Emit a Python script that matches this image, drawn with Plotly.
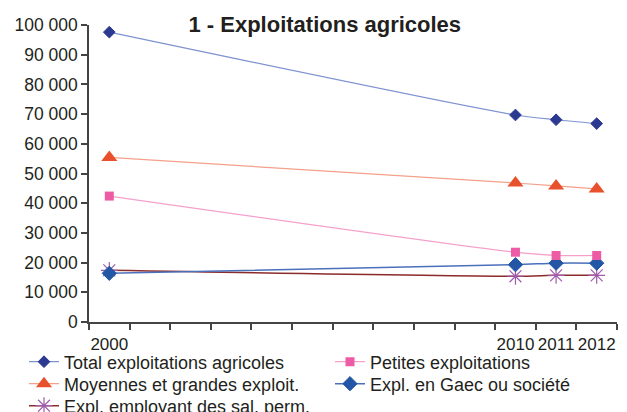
import plotly.graph_objects as go

years = [2000, 2010, 2011, 2012]
total = [97600, 69700, 68100, 66800]
moyennes = [55400, 46800, 45800, 44800]
petites = [42400, 23500, 22400, 22400]
gaec = [16400, 19300, 19800, 19800]
salaries = [17400, 15400, 15700, 15700]

names = ["Total exploitations agricoles", "Petites exploitations",
         "Moyennes et grandes exploit.", "Expl. en Gaec ou société",
         "Expl. employant des sal. perm."]

FONT = "Liberation Sans, Arial, sans-serif"
W, H = 627, 412
fig = go.Figure()

def add(y, name, lcolor, lwidth, symbol, msize, mcolor, legend, mline=None):
    marker = dict(symbol=symbol, size=msize, color=mcolor)
    if mline:
        marker["line"] = mline
    fig.add_trace(go.Scatter(
        x=years, y=y, name=name, mode="lines+markers",
        line=dict(color=lcolor, width=lwidth, shape="spline", smoothing=0.8),
        marker=marker, legend=legend))

add(salaries, names[4], "#8C2B2B", 1.5, "asterisk-open", 14, "#A15BAD", "legend5",
    mline=dict(color="#A15BAD", width=1.2))
add(gaec, names[3], "#4A70BC", 1.5, "diamond", 11, "#2456A6", "legend4",
    mline=dict(color="#2456A6", width=1))
add(petites, names[1], "#F5A0CB", 1.2, "square", 9, "#EE5BA5", "legend2")
add(moyennes, names[2], "#F4A08A", 1.2, "triangle-up", 14, "#E9502D", "legend3")
add(total, names[0], "#7F93D0", 1.2, "diamond", 9, "#2B3990", "legend",
    mline=dict(color="#2B3990", width=1))

def leg(xpx, ypx):
    return dict(xref="container", yref="container", x=xpx / W, y=1 - ypx / H,
                xanchor="left", yanchor="middle", font=dict(size=18, family=FONT),
                bgcolor="rgba(0,0,0,0)", itemwidth=30)

fig.update_layout(
    width=W, height=H,
    margin=dict(l=89, r=10, t=25, b=90, autoexpand=False),
    paper_bgcolor="white", plot_bgcolor="white",
    separators=", ",
    font=dict(family=FONT, color="#231F20"),
    title=dict(text="<b>1 - Exploitations agricoles</b>", x=0.518, xanchor="center",
               y=1 - 24 / H, yanchor="middle",
               font=dict(size=22, family=FONT, color="#231F20")),
    showlegend=True,
    legend=leg(24, 362),
    legend2=leg(330, 362),
    legend3=leg(24, 384),
    legend4=leg(330, 384),
    legend5=leg(24, 406),
)

fig.update_xaxes(
    range=[1999.5, 2012.5], tickvals=years, ticktext=[str(v) for v in years],
    ticks="", showline=True, linecolor="#444", linewidth=1.5, showgrid=False,
    zeroline=False, tickangle=0, ticklabelstandoff=6,
    tickfont=dict(size=17, family=FONT, color="#231F20"),
    minor=dict(tickmode="linear", tick0=1999.5, dtick=1, ticks="outside",
               ticklen=6, tickcolor="#444", tickwidth=1.5, showgrid=False),
)
fig.update_yaxes(
    range=[0, 100000], dtick=10000, tickformat=",d", ticks="outside", ticklen=6,
    tickcolor="#444", tickwidth=1.5, showline=True, linecolor="#444", linewidth=1.5,
    showgrid=False, zeroline=False, tickfont=dict(size=17.5, family=FONT, color="#231F20"),
)

fig.write_html("out.html", config={"displayModeBar": False},
               post_script="document.body.style.margin='0';")
